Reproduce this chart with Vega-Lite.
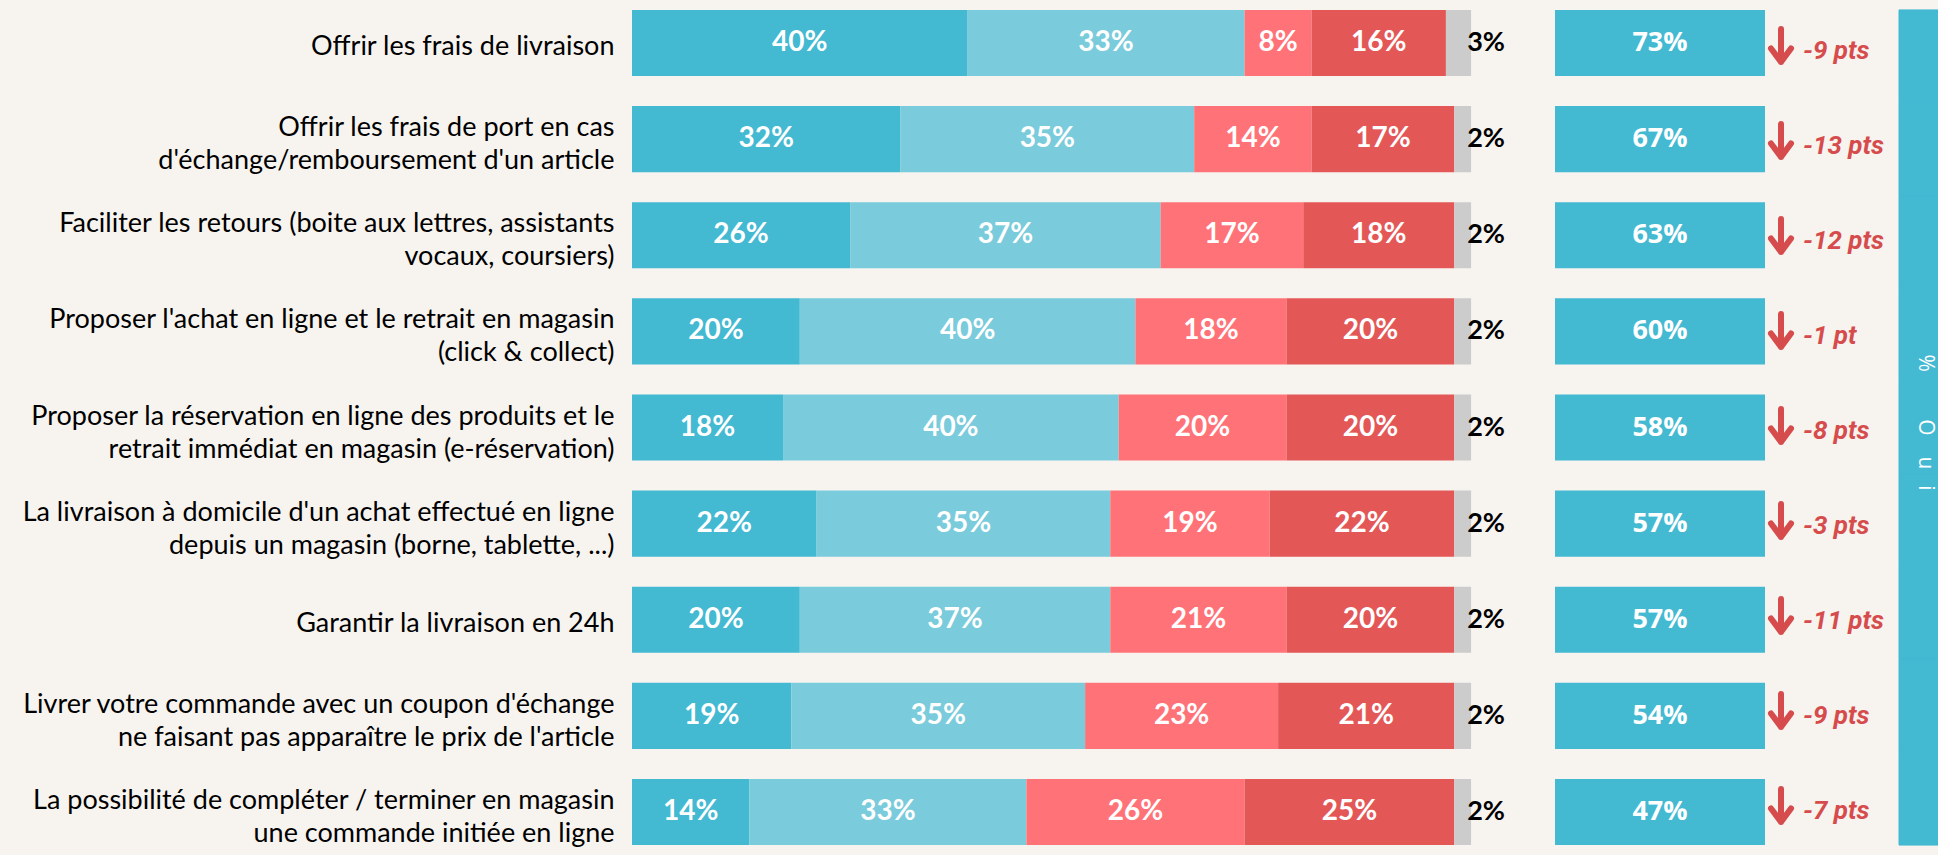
{
  "$schema": "https://vega.github.io/schema/vega-lite/v6.json",
  "background": "#F7F4F0",
  "padding": 0,
  "spacing": 0,
  "config": {"view": {"stroke": null}},
  "resolve": {"scale": {"x": "independent", "y": "independent"}},
  "datasets": {
    "seg": [
      {"label": "Offrir les frais de livraison", "cat": "Oui, tout à fait", "rang": 1, "v": 0.40},
      {"label": "Offrir les frais de livraison", "cat": "Oui, plutôt", "rang": 2, "v": 0.33},
      {"label": "Offrir les frais de livraison", "cat": "Non, plutôt pas", "rang": 3, "v": 0.08},
      {"label": "Offrir les frais de livraison", "cat": "Non, pas du tout", "rang": 4, "v": 0.16},
      {"label": "Offrir les frais de livraison", "cat": "Ne sait pas", "rang": 5, "v": 0.03},
      {"label": "Offrir les frais de port en cas|d'échange/remboursement d'un article", "cat": "Oui, tout à fait", "rang": 1, "v": 0.32},
      {"label": "Offrir les frais de port en cas|d'échange/remboursement d'un article", "cat": "Oui, plutôt", "rang": 2, "v": 0.35},
      {"label": "Offrir les frais de port en cas|d'échange/remboursement d'un article", "cat": "Non, plutôt pas", "rang": 3, "v": 0.14},
      {"label": "Offrir les frais de port en cas|d'échange/remboursement d'un article", "cat": "Non, pas du tout", "rang": 4, "v": 0.17},
      {"label": "Offrir les frais de port en cas|d'échange/remboursement d'un article", "cat": "Ne sait pas", "rang": 5, "v": 0.02},
      {"label": "Faciliter les retours (boite aux lettres, assistants|vocaux, coursiers)", "cat": "Oui, tout à fait", "rang": 1, "v": 0.26},
      {"label": "Faciliter les retours (boite aux lettres, assistants|vocaux, coursiers)", "cat": "Oui, plutôt", "rang": 2, "v": 0.37},
      {"label": "Faciliter les retours (boite aux lettres, assistants|vocaux, coursiers)", "cat": "Non, plutôt pas", "rang": 3, "v": 0.17},
      {"label": "Faciliter les retours (boite aux lettres, assistants|vocaux, coursiers)", "cat": "Non, pas du tout", "rang": 4, "v": 0.18},
      {"label": "Faciliter les retours (boite aux lettres, assistants|vocaux, coursiers)", "cat": "Ne sait pas", "rang": 5, "v": 0.02},
      {"label": "Proposer l'achat en ligne et le retrait en magasin|(click & collect)", "cat": "Oui, tout à fait", "rang": 1, "v": 0.20},
      {"label": "Proposer l'achat en ligne et le retrait en magasin|(click & collect)", "cat": "Oui, plutôt", "rang": 2, "v": 0.40},
      {"label": "Proposer l'achat en ligne et le retrait en magasin|(click & collect)", "cat": "Non, plutôt pas", "rang": 3, "v": 0.18},
      {"label": "Proposer l'achat en ligne et le retrait en magasin|(click & collect)", "cat": "Non, pas du tout", "rang": 4, "v": 0.20},
      {"label": "Proposer l'achat en ligne et le retrait en magasin|(click & collect)", "cat": "Ne sait pas", "rang": 5, "v": 0.02},
      {"label": "Proposer la réservation en ligne des produits et le|retrait immédiat en magasin (e-réservation)", "cat": "Oui, tout à fait", "rang": 1, "v": 0.18},
      {"label": "Proposer la réservation en ligne des produits et le|retrait immédiat en magasin (e-réservation)", "cat": "Oui, plutôt", "rang": 2, "v": 0.40},
      {"label": "Proposer la réservation en ligne des produits et le|retrait immédiat en magasin (e-réservation)", "cat": "Non, plutôt pas", "rang": 3, "v": 0.20},
      {"label": "Proposer la réservation en ligne des produits et le|retrait immédiat en magasin (e-réservation)", "cat": "Non, pas du tout", "rang": 4, "v": 0.20},
      {"label": "Proposer la réservation en ligne des produits et le|retrait immédiat en magasin (e-réservation)", "cat": "Ne sait pas", "rang": 5, "v": 0.02},
      {"label": "La livraison à domicile d'un achat effectué en ligne|depuis un magasin (borne, tablette, ...)", "cat": "Oui, tout à fait", "rang": 1, "v": 0.22},
      {"label": "La livraison à domicile d'un achat effectué en ligne|depuis un magasin (borne, tablette, ...)", "cat": "Oui, plutôt", "rang": 2, "v": 0.35},
      {"label": "La livraison à domicile d'un achat effectué en ligne|depuis un magasin (borne, tablette, ...)", "cat": "Non, plutôt pas", "rang": 3, "v": 0.19},
      {"label": "La livraison à domicile d'un achat effectué en ligne|depuis un magasin (borne, tablette, ...)", "cat": "Non, pas du tout", "rang": 4, "v": 0.22},
      {"label": "La livraison à domicile d'un achat effectué en ligne|depuis un magasin (borne, tablette, ...)", "cat": "Ne sait pas", "rang": 5, "v": 0.02},
      {"label": "Garantir la livraison en 24h", "cat": "Oui, tout à fait", "rang": 1, "v": 0.20},
      {"label": "Garantir la livraison en 24h", "cat": "Oui, plutôt", "rang": 2, "v": 0.37},
      {"label": "Garantir la livraison en 24h", "cat": "Non, plutôt pas", "rang": 3, "v": 0.21},
      {"label": "Garantir la livraison en 24h", "cat": "Non, pas du tout", "rang": 4, "v": 0.20},
      {"label": "Garantir la livraison en 24h", "cat": "Ne sait pas", "rang": 5, "v": 0.02},
      {"label": "Livrer votre commande avec un coupon d'échange|ne faisant pas apparaître le prix de l'article", "cat": "Oui, tout à fait", "rang": 1, "v": 0.19},
      {"label": "Livrer votre commande avec un coupon d'échange|ne faisant pas apparaître le prix de l'article", "cat": "Oui, plutôt", "rang": 2, "v": 0.35},
      {"label": "Livrer votre commande avec un coupon d'échange|ne faisant pas apparaître le prix de l'article", "cat": "Non, plutôt pas", "rang": 3, "v": 0.23},
      {"label": "Livrer votre commande avec un coupon d'échange|ne faisant pas apparaître le prix de l'article", "cat": "Non, pas du tout", "rang": 4, "v": 0.21},
      {"label": "Livrer votre commande avec un coupon d'échange|ne faisant pas apparaître le prix de l'article", "cat": "Ne sait pas", "rang": 5, "v": 0.02},
      {"label": "La possibilité de compléter / terminer en magasin|une commande initiée en ligne", "cat": "Oui, tout à fait", "rang": 1, "v": 0.14},
      {"label": "La possibilité de compléter / terminer en magasin|une commande initiée en ligne", "cat": "Oui, plutôt", "rang": 2, "v": 0.33},
      {"label": "La possibilité de compléter / terminer en magasin|une commande initiée en ligne", "cat": "Non, plutôt pas", "rang": 3, "v": 0.26},
      {"label": "La possibilité de compléter / terminer en magasin|une commande initiée en ligne", "cat": "Non, pas du tout", "rang": 4, "v": 0.25},
      {"label": "La possibilité de compléter / terminer en magasin|une commande initiée en ligne", "cat": "Ne sait pas", "rang": 5, "v": 0.02}
    ],
    "tot": [
      {"label": "Offrir les frais de livraison", "oui": 0.73, "evol": "-9 pts"},
      {"label": "Offrir les frais de port en cas|d'échange/remboursement d'un article", "oui": 0.67, "evol": "-13 pts"},
      {"label": "Faciliter les retours (boite aux lettres, assistants|vocaux, coursiers)", "oui": 0.63, "evol": "-12 pts"},
      {"label": "Proposer l'achat en ligne et le retrait en magasin|(click & collect)", "oui": 0.60, "evol": "-1 pt"},
      {"label": "Proposer la réservation en ligne des produits et le|retrait immédiat en magasin (e-réservation)", "oui": 0.58, "evol": "-8 pts"},
      {"label": "La livraison à domicile d'un achat effectué en ligne|depuis un magasin (borne, tablette, ...)", "oui": 0.57, "evol": "-3 pts"},
      {"label": "Garantir la livraison en 24h", "oui": 0.57, "evol": "-11 pts"},
      {"label": "Livrer votre commande avec un coupon d'échange|ne faisant pas apparaître le prix de l'article", "oui": 0.54, "evol": "-9 pts"},
      {"label": "La possibilité de compléter / terminer en magasin|une commande initiée en ligne", "oui": 0.47, "evol": "-7 pts"}
    ]
  },
  "hconcat": [
    {
      "width": 923,
      "height": 855,
      "data": {"name": "seg"},
      "transform": [
        {"stack": "v", "groupby": ["label"], "sort": [{"field": "rang", "order": "ascending"}], "as": ["v0", "v1"]}
      ],
      "encoding": {
        "y": {
          "field": "label", "type": "nominal", "sort": null,
          "scale": {"paddingInner": 0.313, "paddingOuter": 0.104},
          "axis": {
            "title": null, "ticks": false, "tickSize": 0, "domain": false,
            "labelPadding": 18, "labelFont": "Lato", "labelFontSize": 27,
            "labelColor": "#000000", "labelLimit": 800, "labelLineHeight": 33,
            "labelAlign": "right", "labelBaseline": "middle",
            "labelExpr": "split(datum.label, '|')",
            "labelOffset": {"condition": {"test": "indexof(datum.value, '|') >= 0", "value": -11}, "value": 4},
            "minExtent": 632, "maxExtent": 632
          }
        }
      },
      "layer": [
        {
          "mark": {"type": "bar"},
          "encoding": {
            "x": {"field": "v0", "type": "quantitative", "scale": {"domain": [0, 1.1], "nice": false}, "axis": null},
            "x2": {"field": "v1"},
            "color": {
              "field": "cat", "type": "nominal", "sort": null, "legend": null,
              "scale": {
                "domain": ["Oui, tout à fait", "Oui, plutôt", "Non, plutôt pas", "Non, pas du tout", "Ne sait pas"],
                "range": ["#43B9D2", "#7ACBDB", "#FF7378", "#E45757", "#CCCCCC"]
              }
            }
          }
        },
        {
          "transform": [
            {"filter": "datum.rang < 5"},
            {"fold": ["v0", "v1"], "as": ["bord", "pos"]},
            {"aggregate": [{"op": "mean", "field": "pos", "as": "mid"}], "groupby": ["label", "v", "rang"]}
          ],
          "mark": {"type": "text", "font": "Lato", "fontWeight": "bold", "fontSize": 28, "color": "#FFFFFF", "align": "center", "baseline": "middle"},
          "encoding": {
            "x": {"field": "mid", "type": "quantitative"},
            "text": {"field": "v", "type": "quantitative", "format": ".0%"}
          }
        },
        {
          "transform": [{"filter": "datum.rang == 5"}],
          "mark": {"type": "text", "font": "Lato", "fontWeight": "bold", "fontSize": 27, "color": "#000000", "align": "center", "baseline": "middle", "dx": 15},
          "encoding": {
            "x": {"field": "v1", "type": "quantitative"},
            "text": {"field": "v", "type": "quantitative", "format": ".0%"}
          }
        }
      ]
    },
    {
      "width": 210,
      "height": 855,
      "data": {"name": "tot"},
      "encoding": {
        "y": {"field": "label", "type": "nominal", "sort": null, "scale": {"paddingInner": 0.313, "paddingOuter": 0.104}, "axis": null}
      },
      "layer": [
        {
          "mark": {"type": "bar", "color": "#43B9D2"},
          "encoding": {
            "x": {"datum": 0, "type": "quantitative", "scale": {"domain": [0, 1], "nice": false}, "axis": null},
            "x2": {"datum": 1}
          }
        },
        {
          "mark": {"type": "text", "font": "Open Sans", "fontWeight": "bold", "fontSize": 27, "color": "#FFFFFF", "align": "center", "baseline": "middle"},
          "encoding": {
            "x": {"datum": 0.5, "type": "quantitative"},
            "text": {"field": "oui", "type": "quantitative", "format": ".0%"}
          }
        }
      ]
    },
    {
      "width": 32,
      "height": 855,
      "data": {"name": "tot"},
      "mark": {
        "type": "point",
        "shape": "M0,-0.82L0,0.82M-0.5,0.15L0,0.82L0.5,0.15",
        "filled": false, "stroke": "#D64C4C", "strokeWidth": 6,
        "strokeCap": "round", "strokeJoin": "round", "size": 1600, "opacity": 1, "yOffset": -2
      },
      "encoding": {
        "y": {"field": "label", "type": "nominal", "sort": null, "scale": {"paddingInner": 0.313, "paddingOuter": 0.104}, "axis": null},
        "x": {"datum": 0.5, "type": "quantitative", "scale": {"domain": [0, 1], "nice": false}, "axis": null}
      }
    },
    {
      "width": 101,
      "height": 855,
      "data": {"name": "tot"},
      "mark": {"type": "text", "font": "Roboto", "fontStyle": "italic", "fontWeight": "bold", "fontSize": 26, "color": "#D64C4C", "align": "left", "baseline": "middle", "dx": 6, "dy": 3},
      "encoding": {
        "y": {"field": "label", "type": "nominal", "sort": null, "scale": {"paddingInner": 0.313, "paddingOuter": 0.104}, "axis": null},
        "x": {"datum": 0, "type": "quantitative", "scale": {"domain": [0, 1], "nice": false}, "axis": null},
        "text": {"field": "evol", "type": "nominal"}
      }
    },
    {
      "width": 40,
      "height": 855,
      "layer": [
        {
          "data": {"name": "tot"},
          "mark": {"type": "rect", "color": "#43B9D2", "stroke": "#43B9D2", "strokeWidth": 1},
          "encoding": {
            "y": {"field": "label", "type": "nominal", "sort": null, "scale": {"paddingInner": 0, "paddingOuter": 0.107}, "axis": null}
          }
        },
        {
          "data": {"values": [{"titre": "%\u2003\u2003\u00a0O\u2003u\u2002\u2005i"}]},
          "mark": {"type": "text", "angle": 90, "font": "Open Sans", "fontSize": 21, "color": "#FFFFFF", "align": "center", "baseline": "alphabetic", "clip": true, "dx": -5},
          "encoding": {
            "text": {"field": "titre", "type": "nominal"}
          }
        }
      ]
    }
  ]
}
